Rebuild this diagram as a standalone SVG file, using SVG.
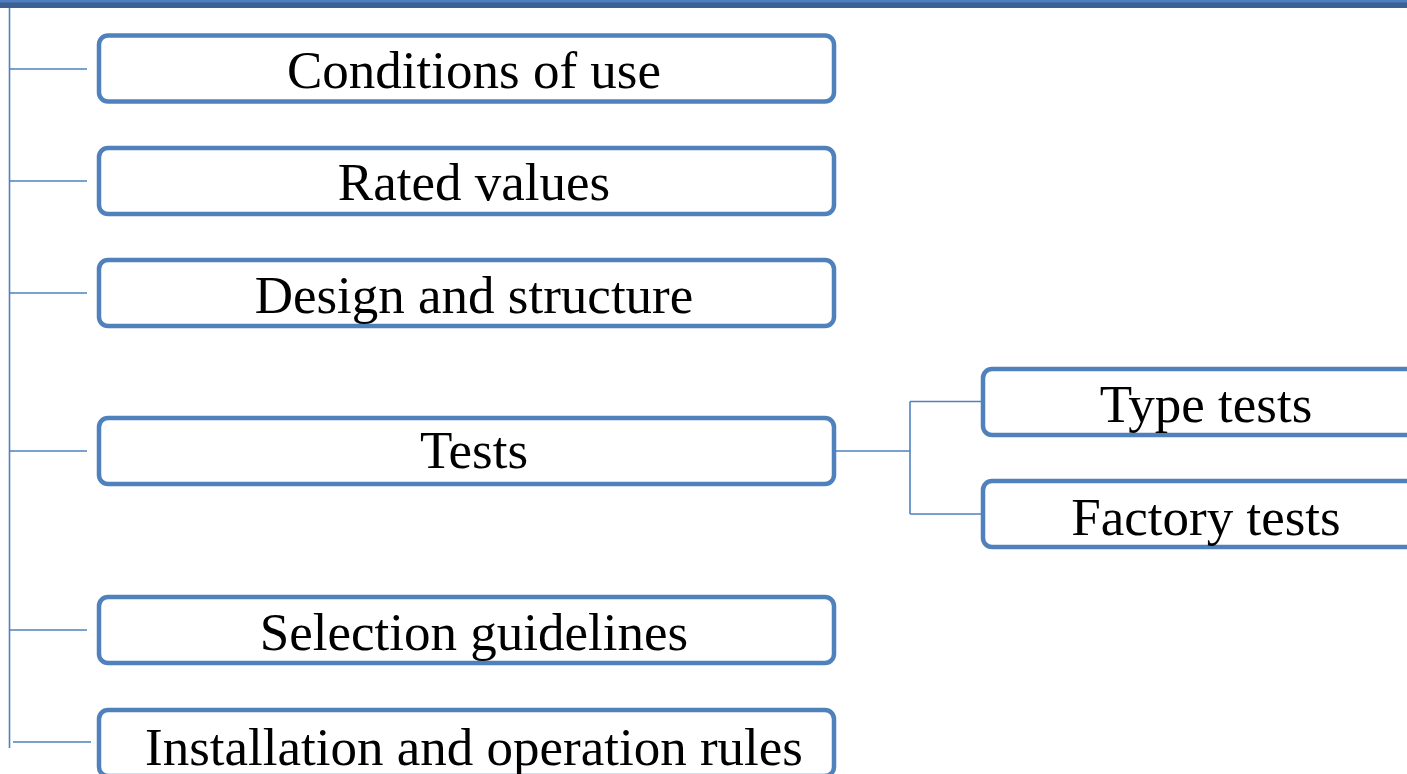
<svg xmlns="http://www.w3.org/2000/svg" width="1407" height="774" viewBox="0 0 1407 774">
<style>
.box{fill:#ffffff;stroke:#4f81bd;stroke-width:4.5}
.ln{stroke:#4f81bd;stroke-width:1.6;fill:none}
.t{font-family:"Liberation Serif","Times New Roman",serif;font-size:53px;fill:#000;text-anchor:middle}
</style>
<rect x="0" y="0" width="1407" height="8" fill="#3c6191"/>
<rect x="0" y="0" width="1407" height="2.5" fill="#4f7fc0"/>
<g id="connectors">
<path class="ln" d="M9.5 8 V748"/>
<path class="ln" d="M9.5 69 H87 M9.5 181 H87 M9.5 293 H87 M9.5 451 H87 M9.5 630 H87 M13 742 H91"/>
<path class="ln" d="M835 451 H910 M910 401.5 V514 M910 401.5 H983 M910 514 H983"/>
</g>
<g id="n1"><rect class="box" x="99" y="35.5" width="735" height="66" rx="9"/><text class="t" x="474" y="88">Conditions of use</text></g>
<g id="n2"><rect class="box" x="99" y="148" width="735" height="66" rx="9"/><text class="t" x="474" y="200">Rated values</text></g>
<g id="n3"><rect class="box" x="99" y="260" width="735" height="66" rx="9"/><text class="t" x="474" y="313">Design and structure</text></g>
<g id="n4"><rect class="box" x="99" y="418" width="735" height="66" rx="9"/><text class="t" x="474" y="468">Tests</text></g>
<g id="n5"><rect class="box" x="99" y="597" width="735" height="66" rx="9"/><text class="t" x="474" y="650">Selection guidelines</text></g>
<g id="n6"><rect class="box" x="99" y="710" width="735" height="66" rx="9"/><text class="t" x="474" y="765">Installation and operation rules</text></g>
<g id="n7"><rect class="box" x="983" y="369" width="460" height="66" rx="9"/><text class="t" x="1206" y="422">Type tests</text></g>
<g id="n8"><rect class="box" x="983" y="481" width="460" height="66" rx="9"/><text class="t" x="1206" y="535">Factory tests</text></g>
</svg>
